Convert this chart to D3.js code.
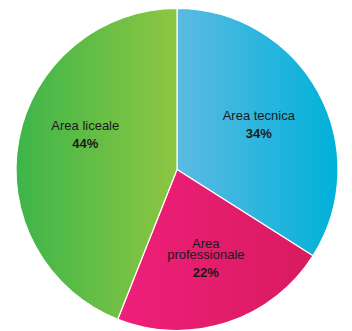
<!DOCTYPE html>
<html>
<head>
<meta charset="utf-8">
<script src="https://cdn.jsdelivr.net/npm/d3@7/dist/d3.min.js"></script>
<style>
  html, body { margin: 0; padding: 0; background: #ffffff; }
  svg { display: block; }
  text { font-family: "Liberation Sans", Arial, Helvetica, sans-serif; fill: #1a1a1a; }
</style>
</head>
<body>
<svg id="chart" width="352" height="331"></svg>
<script>
// Distribution of enrolments by school area (percent)
const areaNames = [["Area tecnica"], ["Area", "professionale"], ["Area liceale"]];
const areaShares = [34, 22, 44];
const gradientStops = [
  ["#5cbae1", "#00b1da"],
  ["#ef1f7b", "#d81b5e"],
  ["#3db54a", "#8dc641"]
];

const svg = d3.select("#chart");
const width = 352, height = 331;
const cx = 177, cy = 169.5, radius = 161;

const defs = svg.append("defs");
gradientStops.forEach((stops, i) => {
  const g = defs.append("linearGradient")
    .attr("id", "slice-grad-" + i)
    .attr("x1", "0%").attr("y1", "0%")
    .attr("x2", "100%").attr("y2", "0%");
  g.append("stop").attr("offset", "0%").attr("stop-color", stops[0]);
  g.append("stop").attr("offset", "100%").attr("stop-color", stops[1]);
});

const pie = d3.pie().sort(null).value(d => d);
const arcs = pie(areaShares);

const arc = d3.arc().innerRadius(0).outerRadius(radius);
const labelArc = d3.arc().innerRadius(radius * 0.58).outerRadius(radius * 0.58);

const g = svg.append("g").attr("transform", `translate(${cx},${cy})`);

g.selectAll("path.slice")
  .data(arcs)
  .join("path")
  .attr("class", "slice")
  .attr("d", arc)
  .attr("fill", (d, i) => `url(#slice-grad-${i})`)
  .attr("stroke", "#ffffff")
  .attr("stroke-width", 1.2)
  .attr("stroke-linejoin", "round");

// vertical nudge so the large slice's label sits higher in its wedge
const labelLift = [0, 0, -17.5];
const lineStep = 11.3;
const pctGap = 18;

arcs.forEach((d, i) => {
  const [lx, ly0] = labelArc.centroid(d);
  const ly = ly0 + labelLift[i];
  const lines = areaNames[i];
  const first = ly - 5 - (lines.length - 1) * lineStep / 2;
  const t = g.append("g");
  lines.forEach((ln, k) => {
    t.append("text")
      .attr("x", lx).attr("y", first + k * lineStep)
      .attr("text-anchor", "middle")
      .attr("font-size", 13)
      .text(ln);
  });
  t.append("text")
    .attr("x", lx).attr("y", first + (lines.length - 1) * lineStep + pctGap)
    .attr("text-anchor", "middle")
    .attr("font-size", 13)
    .attr("font-weight", "bold")
    .text(areaShares[i] + "%");
});
</script>
</body>
</html>
